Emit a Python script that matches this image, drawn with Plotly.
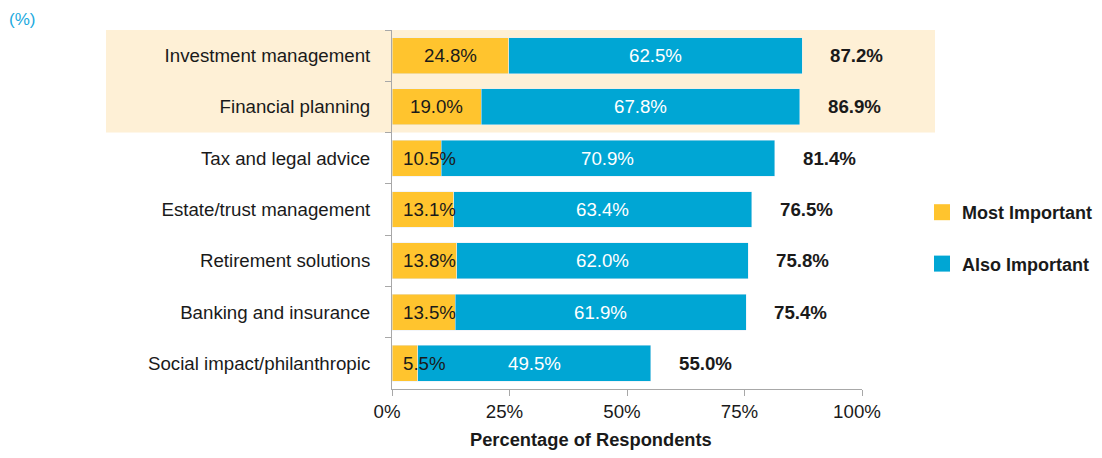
import plotly.graph_objects as go

categories = ["Investment management", "Financial planning", "Tax and legal advice",
              "Estate/trust management", "Retirement solutions", "Banking and insurance",
              "Social impact/philanthropic"]
most_important = [24.8, 19.0, 10.5, 13.1, 13.8, 13.5, 5.5]
also_important = [62.5, 67.8, 70.9, 63.4, 62.0, 61.9, 49.5]
totals = [87.2, 86.9, 81.4, 76.5, 75.8, 75.4, 55.0]
x_ticks = [0, 25, 50, 75, 100]
x_tick_labels = ["0%", "25%", "50%", "75%", "100%"]

YELLOW = "#FFC42E"
BLUE = "#00A6D4"
BEIGE = "#FEF0D6"
TEXT = "#1a1a1a"
GRID = "#A8A8A8"
FONT = "Liberation Sans, Arial, sans-serif"
FS = 18.7

OFF = 8  # page body margin: figure pixel = screen pixel - OFF
W, H = 1102 - 2 * OFF, 458 - 2 * OFF  # keep page free of scrollbars
# plot area in screen pixels
L, R, T, B = 392, 862, 30, 389
PW, PH = R - L, B - T


def px(xs):
    return (xs - L) / PW


def py(ys):
    return (B - ys) / PH


fig = go.Figure()
fig.add_trace(go.Bar(y=categories, x=most_important, orientation="h", marker_color=YELLOW,
                     showlegend=False, hoverinfo="skip"))
fig.add_trace(go.Bar(y=categories, x=also_important, orientation="h", marker_color=BLUE,
                     showlegend=False, hoverinfo="skip"))
# legend entries
fig.add_trace(go.Scatter(x=[None], y=[None], mode="markers", name="Most Important",
                         marker=dict(symbol="square", size=16, color=YELLOW), legendgroup="a"))
fig.add_trace(go.Scatter(x=[None], y=[None], mode="markers", name="Also Important",
                         marker=dict(symbol="square", size=16, color=BLUE), legendgroup="b"))

annotations = []
for cat, m, a, t in zip(categories, most_important, also_important, totals):
    if m < 15:
        annotations.append(dict(x=0, y=cat, xref="x", yref="y", text=f"{m:.1f}%", showarrow=False,
                                xanchor="left", xshift=9, font=dict(size=FS, color=TEXT, family=FONT)))
    else:
        annotations.append(dict(x=m / 2, y=cat, xref="x", yref="y", text=f"{m:.1f}%", showarrow=False,
                                xanchor="center", font=dict(size=FS, color=TEXT, family=FONT)))
    annotations.append(dict(x=m + a / 2, y=cat, xref="x", yref="y", text=f"{a:.1f}%", showarrow=False,
                            xanchor="center", font=dict(size=FS, color="white", family=FONT)))
    annotations.append(dict(x=t, y=cat, xref="x", yref="y", text=f"<b>{t:.1f}%</b>", showarrow=False,
                            xanchor="left", xshift=26, font=dict(size=FS, color=TEXT, family=FONT)))
annotations.append(dict(x=px(7), y=py(20), xref="paper", yref="paper", text="(%)",
                        showarrow=False, xanchor="left", yanchor="middle",
                        font=dict(size=17, color="#1BA9DE", family=FONT)))
annotations.append(dict(x=px(591), y=py(439), xref="paper", yref="paper",
                        text="<b>Percentage of Respondents</b>", showarrow=False,
                        xanchor="center", yanchor="middle",
                        font=dict(size=18.3, color=TEXT, family=FONT)))

fig.update_layout(
    width=W, height=H,
    margin=dict(l=L - OFF, r=W - (R - OFF), t=T - OFF, b=H - (B - OFF), autoexpand=False),
    paper_bgcolor="white", plot_bgcolor="white",
    barmode="stack", bargap=0.3,
    font=dict(family=FONT, size=FS, color=TEXT),
    shapes=[dict(type="rect", xref="paper", yref="y", x0=px(106), x1=px(935),
                 y0=-0.5, y1=1.5, fillcolor=BEIGE, line_width=0, layer="below")],
    annotations=annotations,
    legend=dict(x=px(922), y=py(238), xanchor="left", yanchor="middle",
                font=dict(size=18, color=TEXT, family=FONT, weight="bold"),
                tracegroupgap=25, bgcolor="rgba(0,0,0,0)"),
    xaxis=dict(range=[0, 100], tickvals=x_ticks, ticktext=x_tick_labels, showgrid=False,
               zeroline=False, showline=True, linecolor=GRID, linewidth=1,
               ticks="outside", ticklen=6, tickcolor=GRID, ticklabelshift=-5,
               tickfont=dict(size=FS, color=TEXT)),
    yaxis=dict(type="category", autorange="reversed", showgrid=False, showline=True,
               linecolor=GRID, linewidth=1, ticks="outside", ticklen=6, tickcolor=GRID,
               tickson="boundaries", ticklabelstandoff=17,
               tickfont=dict(size=FS, color=TEXT)),
)

fig.write_html("out.html")
